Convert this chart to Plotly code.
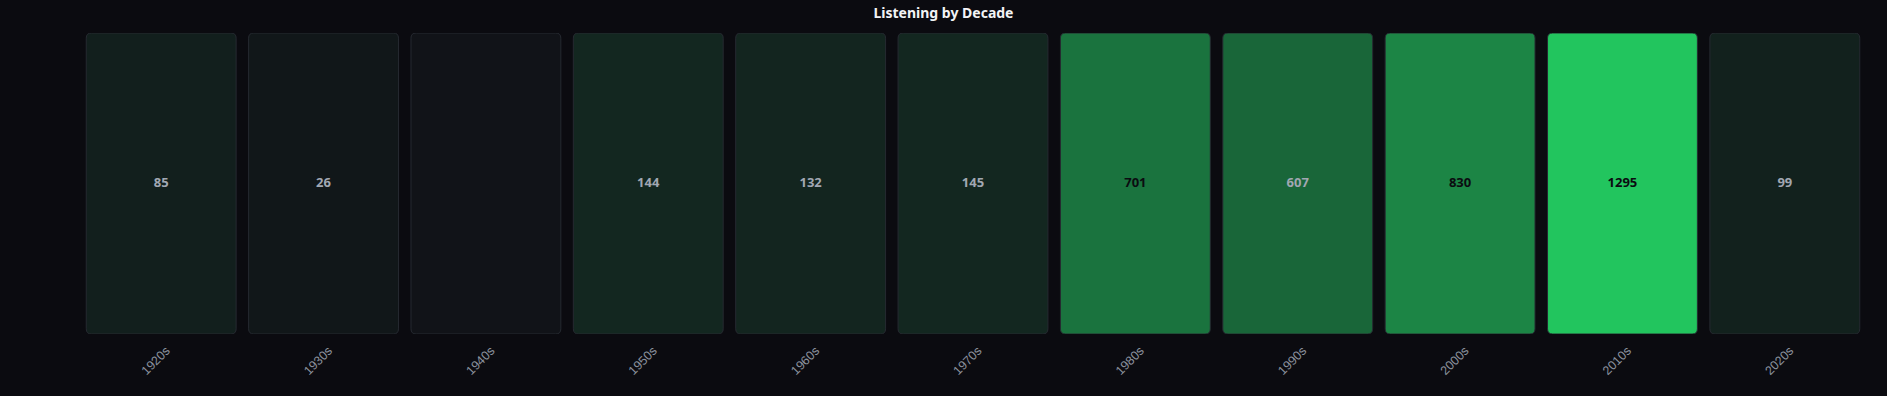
import plotly.graph_objects as go

decades = ["1920s", "1930s", "1940s", "1950s", "1960s", "1970s",
           "1980s", "1990s", "2000s", "2010s", "2020s"]
plays = [85, 26, 0, 144, 132, 145, 701, 607, 830, 1295, 99]

BG = "#0b0b10"
LOW = (17, 19, 24)
HIGH = (34, 197, 94)
BORDER = "#262a31"

max_v = max(plays)


def tile_color(v):
    t = v / max_v if max_v else 0
    r, g, b = (round(LOW[k] + t * (HIGH[k] - LOW[k])) for k in range(3))
    return f"rgb({r},{g},{b})"


def rounded_path(x0, x1, y0, y1, rx, ry):
    return (f"M {x0+rx},{y0} L {x1-rx},{y0} Q {x1},{y0} {x1},{y0+ry} "
            f"L {x1},{y1-ry} Q {x1},{y1} {x1-rx},{y1} "
            f"L {x0+rx},{y1} Q {x0},{y1} {x0},{y1-ry} "
            f"L {x0},{y0+ry} Q {x0},{y0} {x0+rx},{y0} Z")


half_w = 0.4615
rx, ry = 0.032, 0.017

shapes = []
for i, v in enumerate(plays):
    shapes.append(dict(
        type="path", xref="x", yref="y", layer="below",
        path=rounded_path(i - half_w, i + half_w, 0, 1, rx, ry),
        fillcolor=tile_color(v),
        line=dict(color=BORDER, width=1),
    ))

texts = [str(v) if v > 0 else "" for v in plays]
text_colors = ["#0b0b10" if v / max_v > 0.5 else "#a1a7b2" for v in plays]

fig = go.Figure(go.Scatter(
    x=list(range(len(decades))),
    y=[0.5] * len(decades),
    mode="text",
    text=texts,
    textposition="middle center",
    textfont=dict(color=text_colors, size=13, family="Noto Sans", weight="bold"),
    hovertext=[f"{d}: {v}" for d, v in zip(decades, plays)],
    hoverinfo="text",
    showlegend=False,
))

fig.update_layout(
    width=1887, height=396,
    paper_bgcolor=BG, plot_bgcolor=BG,
    margin=dict(l=80, r=21, t=33, b=62),
    shapes=shapes,
    title=dict(text="<b>Listening by Decade</b>", x=0.5, xanchor="center",
               y=0.968, yanchor="middle", yref="container",
               font=dict(size=14, color="#f3f4f6", family="Noto Sans")),
    xaxis=dict(
        range=[-0.5, len(decades) - 0.5],
        tickmode="array", tickvals=list(range(len(decades))), ticktext=decades,
        tickangle=-45, showgrid=False, zeroline=False, showline=False,
        ticks="", tickfont=dict(color="#8b929e", size=12.5, family="Liberation Sans"),
        ticklabelstandoff=6, ticklabelshift=5,
        fixedrange=True,
    ),
    yaxis=dict(range=[0, 1], visible=False, fixedrange=True),
)

fig.write_html(
    "out.html",
    config={"displayModeBar": False},
    post_script="document.body.style.margin='0';document.body.style.overflow='hidden';"
                "document.body.style.background='#0b0b10';",
)
